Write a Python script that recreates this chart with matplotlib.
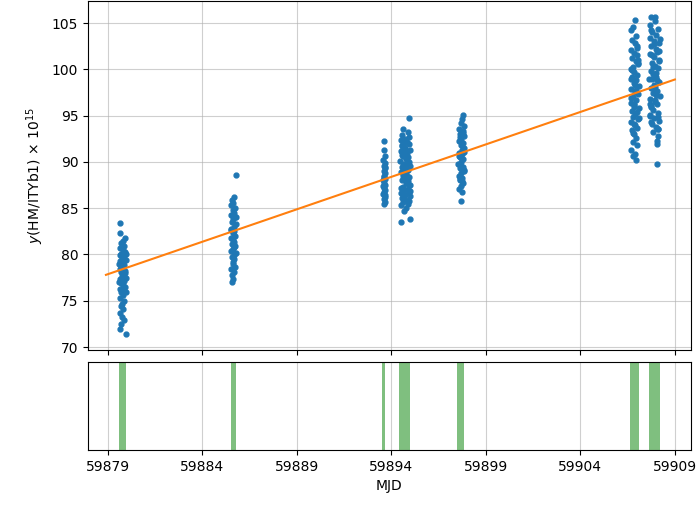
import numpy as np
import matplotlib
matplotlib.use("Agg")
import matplotlib.pyplot as plt

# observation clusters: MJD and y (x 1e15)
t1 = [59879.64, 59879.66, 59879.90, 59879.80, 59879.72, 59879.86, 59879.64, 59879.78, 59879.92, 59879.70,
      59879.62, 59879.84, 59879.74, 59879.94, 59879.66, 59879.80, 59879.88, 59879.70, 59879.76, 59879.62,
      59879.90, 59879.68, 59879.82, 59879.74, 59879.96, 59879.64, 59879.86, 59879.72, 59879.78, 59879.92,
      59879.66, 59879.84, 59879.70, 59879.80, 59879.62, 59879.88, 59879.74, 59879.68, 59879.82, 59879.64,
      59879.76, 59879.86, 59879.70, 59879.62, 59879.96, 59879.95, 59879.61, 59879.93, 59879.60, 59879.97]
y1 = [83.4, 82.3, 81.8, 81.5, 81.2, 80.9, 80.7, 80.5, 80.3, 80.1,
      79.9, 79.8, 79.6, 79.4, 79.3, 79.1, 78.9, 78.8, 78.6, 78.4,
      78.2, 78.1, 77.9, 77.7, 77.5, 77.3, 77.1, 76.9, 76.7, 76.5,
      76.3, 76.1, 75.9, 75.6, 75.3, 75.0, 74.7, 74.4, 74.1, 73.7,
      73.3, 72.9, 72.5, 71.9, 71.4, 80.0, 79.0, 78.0, 77.0, 76.0]

t2 = [59885.76, 59885.70, 59885.58, 59885.64, 59885.52, 59885.74, 59885.60, 59885.68, 59885.54, 59885.72,
      59885.62, 59885.56, 59885.76, 59885.66, 59885.50, 59885.70, 59885.60, 59885.74, 59885.54, 59885.64,
      59885.68, 59885.58, 59885.72, 59885.62, 59885.52, 59885.76, 59885.66, 59885.56, 59885.70, 59885.60,
      59885.64, 59885.74, 59885.54, 59885.68, 59885.58, 59885.62, 59885.56, 59885.78, 59885.50, 59885.66]
y2 = [88.6, 86.2, 85.9, 85.6, 85.3, 85.0, 84.8, 84.5, 84.3, 84.0,
      83.8, 83.5, 83.3, 83.0, 82.8, 82.5, 82.3, 82.0, 81.8, 81.6,
      81.3, 81.1, 80.9, 80.6, 80.4, 80.2, 79.9, 79.7, 79.5, 79.2,
      79.0, 78.7, 78.4, 78.1, 77.8, 77.3, 77.0, 84.1, 82.6, 80.8]

t3 = [59893.62, 59893.60, 59893.64, 59893.58, 59893.66, 59893.62, 59893.68, 59893.59, 59893.64, 59893.61,
      59893.67, 59893.58, 59893.63, 59893.65, 59893.60, 59893.68, 59893.62, 59893.57, 59893.66, 59893.61,
      59893.64, 59893.59, 59893.67, 59893.63, 59893.58, 59893.65]
y3 = [92.3, 91.3, 90.6, 90.2, 89.9, 89.6, 89.3, 89.0, 88.8, 88.5,
      88.2, 88.0, 87.7, 87.5, 87.2, 87.0, 86.7, 86.5, 86.2, 86.0,
      85.7, 85.5, 89.5, 88.4, 87.4, 86.4]

t4 = [59894.95, 59894.62, 59894.88, 59894.55, 59894.93, 59894.70, 59894.50, 59894.80, 59894.66, 59894.92,
      59894.58, 59894.74, 59894.98, 59894.53, 59894.85, 59894.68, 59894.60, 59894.90, 59894.77, 59894.48,
      59894.83, 59894.64, 59894.96, 59894.57, 59894.72, 59894.87, 59894.51, 59894.79, 59894.61, 59894.94,
      59894.69, 59894.54, 59894.82, 59894.75, 59894.99, 59894.59, 59894.86, 59894.65, 59894.91, 59894.49,
      59894.73, 59894.97, 59894.56, 59894.81, 59894.63, 59894.89, 59894.52, 59894.78, 59894.67, 59895.00,
      59894.53, 59894.84, 59894.71, 59894.58, 59894.93, 59894.61, 59894.76, 59894.88, 59894.50, 59894.66,
      59894.95, 59894.55, 59894.80, 59894.69, 59894.90, 59894.62, 59894.74, 59894.85, 59894.57, 59894.99]
y4 = [94.7, 93.6, 93.2, 92.9, 92.7, 92.5, 92.4, 92.2, 92.0, 91.9,
      91.7, 91.5, 91.3, 91.2, 91.0, 90.8, 90.6, 90.5, 90.3, 90.1,
      89.9, 89.8, 89.6, 89.4, 89.2, 89.1, 88.9, 88.7, 88.5, 88.4,
      88.2, 88.0, 87.8, 87.7, 87.5, 87.3, 87.1, 87.0, 86.8, 86.6,
      86.4, 86.3, 86.1, 85.9, 85.7, 85.5, 85.3, 85.0, 84.7, 83.8,
      83.5, 92.1, 91.4, 90.7, 90.0, 89.3, 88.6, 87.9, 87.2, 86.5,
      85.8, 91.8, 90.4, 89.0, 87.6, 86.2, 88.3, 89.7, 91.1, 86.9]

t5 = [59897.80, 59897.74, 59897.68, 59897.82, 59897.60, 59897.77, 59897.64, 59897.85, 59897.70, 59897.58,
      59897.79, 59897.66, 59897.83, 59897.72, 59897.56, 59897.75, 59897.62, 59897.81, 59897.69, 59897.54,
      59897.78, 59897.65, 59897.84, 59897.71, 59897.59, 59897.76, 59897.63, 59897.80, 59897.67, 59897.57,
      59897.73, 59897.66, 59897.61, 59897.83, 59897.70, 59897.64, 59897.78, 59897.58, 59897.74, 59897.86]
y5 = [95.1, 94.6, 94.2, 93.9, 93.6, 93.3, 93.0, 92.8, 92.5, 92.3,
      92.0, 91.8, 91.5, 91.3, 91.0, 90.8, 90.5, 90.3, 90.0, 89.8,
      89.5, 89.3, 89.0, 88.8, 88.5, 88.3, 88.0, 87.7, 87.4, 87.1,
      86.8, 85.8, 92.7, 91.1, 89.6, 88.2, 93.1, 90.6, 87.9, 89.1]

t6 = [59906.90, 59906.80, 59906.70, 59906.95, 59906.75, 59906.88, 59907.02, 59906.68, 59906.84, 59906.98,
      59906.72, 59906.92, 59907.06, 59906.78, 59906.66, 59906.86, 59907.00, 59906.74, 59906.94, 59906.82,
      59907.08, 59906.70, 59906.88, 59907.04, 59906.76, 59906.96, 59906.68, 59906.85, 59907.10, 59906.73,
      59906.91, 59906.79, 59907.03, 59906.67, 59906.87, 59906.99, 59906.71, 59906.83, 59906.93, 59906.77,
      59906.97, 59906.69, 59906.90, 59906.80, 59906.94, 59907.05, 59906.74, 59906.89, 59906.66, 59907.01,
      59906.81, 59906.95, 59906.72, 59907.07, 59906.86, 59906.76, 59906.98, 59906.70, 59906.84, 59907.09]
y6 = [105.3, 104.6, 104.2, 103.6, 103.2, 102.8, 102.5, 102.1, 101.8, 101.5,
      101.2, 100.9, 100.6, 100.3, 100.0, 99.7, 99.4, 99.1, 98.8, 98.5,
      98.2, 97.9, 97.6, 97.3, 97.0, 96.7, 96.4, 96.1, 95.8, 95.5,
      95.2, 94.9, 94.6, 94.3, 94.0, 93.7, 93.4, 93.0, 92.6, 92.2,
      91.8, 91.3, 90.9, 90.6, 90.2, 101.0, 99.9, 98.3, 96.9, 95.4,
      94.1, 97.8, 99.2, 100.7, 96.2, 93.1, 102.3, 98.9, 95.9, 94.7]

t7 = [59907.72, 59907.93, 59907.95, 59907.70, 59908.12, 59907.80, 59908.02, 59907.66, 59907.92, 59908.15,
      59907.75, 59907.98, 59908.05, 59907.68, 59907.88, 59908.18, 59907.78, 59907.94, 59908.10, 59907.72,
      59907.84, 59908.00, 59907.65, 59908.14, 59907.90, 59907.76, 59908.06, 59907.82, 59908.20, 59907.69,
      59907.96, 59908.03, 59907.74, 59907.86, 59908.11, 59907.67, 59907.92, 59908.16, 59907.79, 59908.01,
      59908.09, 59907.85, 59908.13, 59908.04, 59908.07, 59908.06, 59907.73, 59908.17, 59907.83, 59907.97,
      59907.71, 59908.12, 59907.89, 59908.02, 59907.77, 59908.19, 59907.93, 59907.66, 59908.08, 59907.81,
      59908.14, 59907.99, 59907.75, 59907.91, 59908.05, 59907.70]
y7 = [105.7, 105.6, 105.2, 104.8, 104.4, 104.0, 103.7, 103.4, 103.1, 102.8,
      102.5, 102.2, 101.9, 101.6, 101.3, 101.0, 100.7, 100.4, 100.1, 99.8,
      99.5, 99.2, 98.9, 98.6, 98.3, 98.0, 97.7, 97.4, 97.1, 96.8,
      96.5, 96.2, 95.9, 95.6, 95.3, 95.0, 94.7, 94.4, 94.1, 93.8,
      93.5, 93.2, 92.8, 92.3, 91.9, 89.8, 104.2, 102.0, 100.2, 98.1,
      96.0, 94.9, 97.9, 99.6, 101.5, 103.3, 96.7, 95.1, 93.6, 99.0,
      100.9, 97.2, 94.3, 102.7, 98.8, 96.3]

# linear fit endpoints
fit_x = [59878.9, 59909.0]
fit_y = [77.8, 98.9]

# observing windows (MJD start / end)
win_start = [59879.60, 59885.49, 59893.53, 59894.43, 59897.47, 59906.64, 59907.63]
win_end = [59879.98, 59885.78, 59893.65, 59895.01, 59897.85, 59907.10, 59908.19]

mjd = np.concatenate([t1, t2, t3, t4, t5, t6, t7])
yval = np.concatenate([y1, y2, y3, y4, y5, y6, y7])

fig = plt.figure(figsize=(7.0, 5.07), dpi=100)
ax = fig.add_axes([0.1257, 0.3097, 0.8614, 0.689])
ax2 = fig.add_axes([0.1257, 0.1124, 0.8614, 0.1736], sharex=ax)

ax.plot(mjd, yval, '.', ms=7)
ax.plot(fit_x, fit_y)
ax.set_ylabel(r'$y$(HM/ITYb1) × 10$^{15}$')
ax.grid(True, alpha=0.6)
ax.tick_params(labelbottom=False)

for s, e in zip(win_start, win_end):
    ax2.axvspan(s, e, color='g', alpha=0.5, lw=0)
ax2.set_yticks([])
ax2.grid(True, axis='x', alpha=0.6)
ax2.set_xlabel('MJD')
ax2.set_xticks([59879, 59884, 59889, 59894, 59899, 59904, 59909])
ax2.set_xlim(59877.95, 59909.85)

fig.savefig('out.png', dpi=100)
